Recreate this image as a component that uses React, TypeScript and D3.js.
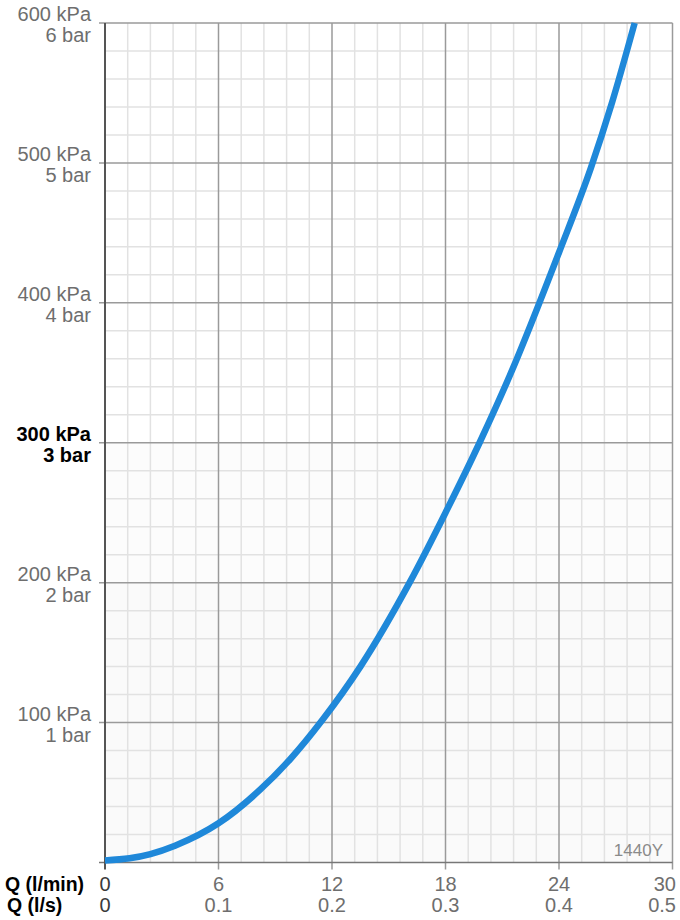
import React from "react";
import * as d3 from "d3";

const flowLpm: number[] = [0, 1.3, 2.4, 3.7, 6, 8.2, 9.8, 11.5, 13.5, 16.1, 18, 19.8, 21.4, 24, 25.7, 26.8, 28];
const pressureKPa: number[] = [1.5, 3, 6, 12, 28, 52, 74, 102, 140, 200, 250, 300, 348, 436, 497, 543, 600];

const xTicks: number[] = [0, 6, 12, 18, 24, 30];
const xTicksLs: string[] = ["0", "0.1", "0.2", "0.3", "0.4", "0.5"];
const yTicks: number[] = [100, 200, 300, 400, 500, 600];
const yKPaLabels: string[] = ["100 kPa", "200 kPa", "300 kPa", "400 kPa", "500 kPa", "600 kPa"];
const yBarLabels: string[] = ["1 bar", "2 bar", "3 bar", "4 bar", "5 bar", "6 bar"];
const highlightTick = 300;
const modelLabel = "1440Y";

const W = 680;
const H = 920;
const left = 105;
const right = 672.5;
const top = 23;
const bottom = 862.5;

export default function App() {
  const x = d3.scaleLinear().domain([0, 30]).range([left, right]);
  const y = d3.scaleLinear().domain([0, 600]).range([bottom, top]);
  const minorX = d3.range(0, 30.001, 1.2).filter((v) => Math.abs(v / 6 - Math.round(v / 6)) > 1e-6);
  const minorY = d3.range(0, 600.001, 20).filter((v) => v % 100 !== 0);
  const line = d3
    .line<number>()
    .x((_, i) => x(flowLpm[i]))
    .y((d) => y(d))
    .curve(d3.curveMonotoneX);
  const font = "'Liberation Sans', Arial, Helvetica, sans-serif";
  const lastIdx = xTicks.length - 1;
  return (
    <svg width={W} height={H} style={{ position: "absolute", left: 0, top: 0 }} fontFamily={font}>
      <rect x={0} y={0} width={W} height={H} fill="#fff" />
      <rect x={left} y={y(300)} width={right - left} height={bottom - y(300)} fill="#fcfcfc" />
      <rect x={left} y={y(200)} width={right - left} height={bottom - y(200)} fill="#fafafa" />
      {minorX.map((v) => (
        <line key={"mx" + v} x1={x(v)} x2={x(v)} y1={top} y2={bottom} stroke="#e2e2e2" strokeWidth={1.5} />
      ))}
      {minorY.map((v) => (
        <line key={"my" + v} x1={left} x2={right} y1={y(v)} y2={y(v)} stroke="#e2e2e2" strokeWidth={1.5} />
      ))}
      {xTicks.slice(1).map((v) => (
        <line key={"Mx" + v} x1={x(v)} x2={x(v)} y1={top} y2={bottom + 7} stroke="#9a9a9a" strokeWidth={1.5} />
      ))}
      {yTicks.map((v) => (
        <line key={"My" + v} x1={left - 6} x2={right} y1={y(v)} y2={y(v)} stroke="#9a9a9a" strokeWidth={1.5} />
      ))}
      <line x1={left - 6} x2={right} y1={bottom} y2={bottom} stroke="#777" strokeWidth={1.5} />
      <line x1={left} x2={left} y1={top} y2={bottom + 7} stroke="#555" strokeWidth={2} />
      <text x={663} y={856} fontSize={17} fill="#8a8a8a" textAnchor="end">
        {modelLabel}
      </text>
      <path d={line(pressureKPa) || ""} fill="none" stroke="#1f88d9" strokeWidth={6.5} strokeLinecap="butt" />
      {yTicks.map((v, i) => {
        const hl = v === highlightTick;
        return (
          <g key={"yl" + v} fontSize={20} textAnchor="end" fill={hl ? "#000" : "#6e6e6e"} fontWeight={hl ? "bold" : "normal"}>
            <text x={91} y={y(v) - 2}>
              {yKPaLabels[i]}
            </text>
            <text x={91} y={y(v) + 19}>
              {yBarLabels[i]}
            </text>
          </g>
        );
      })}
      <text x={5} y={891} fontSize={19.5} fontWeight="bold" fill="#000">
        Q (l/min)
      </text>
      <text x={7} y={912} fontSize={19.5} fontWeight="bold" fill="#000">
        Q (l/s)
      </text>
      {xTicks.map((v, i) => {
        const isLast = i === lastIdx;
        return (
          <g
            key={"xl" + v}
            fontSize={20}
            textAnchor={isLast ? "end" : "middle"}
            fill={v === 0 ? "#3a3a3a" : "#6e6e6e"}
          >
            <text x={isLast ? 676 : x(v)} y={891}>
              {String(v)}
            </text>
            <text x={isLast ? 676 : x(v)} y={912}>
              {xTicksLs[i]}
            </text>
          </g>
        );
      })}
    </svg>
  );
}
